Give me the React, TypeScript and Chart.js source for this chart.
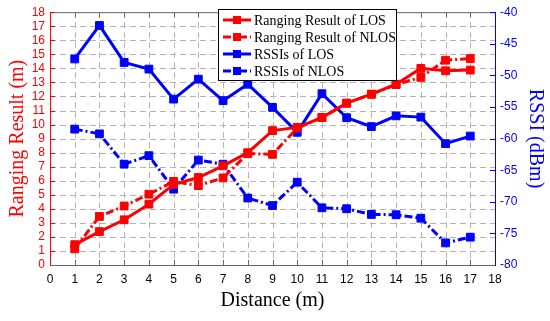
import React, { useEffect, useRef } from 'react';
import { Chart, registerables } from 'chart.js';
Chart.register(...registerables);

const distances = [1, 2, 3, 4, 5, 6, 7, 8, 9, 10, 11, 12, 13, 14, 15, 16, 17];
const rangingLOS = [1.45, 2.38, 3.22, 4.33, 5.75, 6.23, 7.06, 8.0, 9.57, 9.8, 10.5, 11.52, 12.16, 12.87, 14.0, 13.83, 13.88];
const rangingNLOS = [1.15, 3.46, 4.2, 5.04, 5.95, 5.65, 6.2, 7.93, 7.88, 9.75, 10.5, 11.52, 12.16, 12.85, 13.36, 14.58, 14.7];
const rssiLOS = [-47.4, -42.1, -47.95, -49.0, -53.75, -50.6, -54.0, -51.4, -55.06, -59.0, -52.9, -56.7, -58.1, -56.4, -56.6, -60.8, -59.6];
const rssiNLOS = [-58.5, -59.25, -64.05, -62.7, -68.0, -63.4, -64.05, -69.4, -70.6, -66.9, -70.95, -71.1, -72.0, -72.05, -72.6, -76.5, -75.6];

const legendLabels = ['Ranging Result of LOS', 'Ranging Result of NLOS', 'RSSIs of LOS', 'RSSIs of NLOS'];
const xTitle = 'Distance (m)';
const yLeftTitle = 'Ranging Result (m)';
const yRightTitle = 'RSSI (dBm)';

const RED = '#ff0000';
const BLUE = '#0000ff';
const GRID = '#b4b4b4';
const DASHDOT = [8, 3, 2, 3];
const SERIF = '"Liberation Serif", "Times New Roman", serif';
const SANS = '"Liberation Sans", Arial, sans-serif';

const toPts = (ys: number[]) => ys.map((y, i) => ({ x: distances[i], y }));

function drawFrame(chart: any) {
  const ctx = chart.ctx;
  const a = chart.chartArea;
  const x = chart.scales['x'];
  const yl = chart.scales['y'];
  const yr = chart.scales['y1'];
  if (!a || !x || !yl || !yr) return;
  const L = 5;
  ctx.save();
  ctx.fillStyle = '#fff';
  ctx.fillRect(0, 0, chart.width, chart.height);
  ctx.lineWidth = 1;
  ctx.strokeStyle = GRID;
  ctx.setLineDash([6, 4]);
  for (let v = 1; v < 18; v++) {
    const px = Math.round(x.getPixelForValue(v)) + 0.5;
    ctx.beginPath();
    ctx.moveTo(px, a.top);
    ctx.lineTo(px, a.bottom);
    ctx.stroke();
    const py = Math.round(yl.getPixelForValue(v)) + 0.5;
    ctx.beginPath();
    ctx.moveTo(a.left, py);
    ctx.lineTo(a.right, py);
    ctx.stroke();
  }
  ctx.setLineDash([]);
  ctx.strokeStyle = '#666';
  ctx.beginPath();
  ctx.moveTo(a.left, a.top + 0.5);
  ctx.lineTo(a.right, a.top + 0.5);
  ctx.stroke();
  for (let v = 0; v <= 18; v++) {
    const px = Math.round(x.getPixelForValue(v)) + 0.5;
    ctx.beginPath();
    ctx.moveTo(px, a.bottom);
    ctx.lineTo(px, a.bottom - L);
    ctx.moveTo(px, a.top);
    ctx.lineTo(px, a.top + L);
    ctx.stroke();
  }
  ctx.strokeStyle = RED;
  for (let v = 0; v <= 18; v++) {
    const py = Math.round(yl.getPixelForValue(v)) + 0.5;
    ctx.beginPath();
    ctx.moveTo(a.left, py);
    ctx.lineTo(a.left + L, py);
    ctx.stroke();
  }
  ctx.strokeStyle = BLUE;
  for (let v = -80; v <= -40; v += 5) {
    const py = Math.round(yr.getPixelForValue(v)) + 0.5;
    ctx.beginPath();
    ctx.moveTo(a.right, py);
    ctx.lineTo(a.right - L, py);
    ctx.stroke();
  }
  ctx.restore();
}

function drawLegend(chart: any) {
  const ctx = chart.ctx;
  const bx = 218, by = 9, bw = 178, bh = 71;
  ctx.save();
  ctx.fillStyle = '#fff';
  ctx.fillRect(bx, by, bw, bh);
  ctx.strokeStyle = '#000';
  ctx.lineWidth = 1;
  ctx.strokeRect(bx + 0.5, by + 0.5, bw, bh);
  const rows = [20, 37, 54, 71];
  const colors = [RED, RED, BLUE, BLUE];
  const dashes = [[], DASHDOT, [], DASHDOT];
  ctx.font = '14px ' + SERIF;
  ctx.textBaseline = 'middle';
  rows.forEach((ry, i) => {
    ctx.strokeStyle = colors[i];
    ctx.fillStyle = colors[i];
    ctx.lineWidth = 3;
    ctx.setLineDash(dashes[i]);
    ctx.beginPath();
    ctx.moveTo(223, ry);
    ctx.lineTo(251, ry);
    ctx.stroke();
    ctx.setLineDash([]);
    ctx.fillRect(237 - 4, ry - 4, 8, 8);
    ctx.fillStyle = '#000';
    ctx.fillText(legendLabels[i], 254, ry + 1);
  });
  ctx.restore();
}

const decorPlugin = {
  id: 'decor',
  beforeDraw(chart: any) {
    drawFrame(chart);
  },
  afterDraw(chart: any) {
    drawLegend(chart);
  },
};

export default function App() {
  const ref = useRef<HTMLCanvasElement>(null);
  useEffect(() => {
    document.body.style.margin = '0';
    const ds = (label: string, data: number[], color: string, dash: number[], axis: string) => ({
      label,
      data: toPts(data),
      yAxisID: axis,
      borderColor: color,
      backgroundColor: color,
      borderWidth: 3,
      borderDash: dash,
      pointStyle: 'rect',
      pointRadius: 5.5,
      pointBorderWidth: 1,
      pointBackgroundColor: color,
      pointBorderColor: color,
      tension: 0,
    });
    const chart = new Chart(ref.current!, {
      type: 'line',
      data: {
        datasets: [
          ds(legendLabels[0], rangingLOS, RED, [], 'y'),
          ds(legendLabels[1], rangingNLOS, RED, DASHDOT, 'y'),
          ds(legendLabels[2], rssiLOS, BLUE, [], 'y1'),
          ds(legendLabels[3], rssiNLOS, BLUE, DASHDOT, 'y1'),
        ] as any,
      },
      options: {
        animation: false,
        responsive: false,
        maintainAspectRatio: false,
        layout: { padding: { top: 10, left: 0, right: 0, bottom: 0 } },
        plugins: { legend: { display: false }, tooltip: { enabled: false } },
        scales: {
          x: {
            type: 'linear',
            min: 0,
            max: 18,
            ticks: { stepSize: 1, autoSkip: false, color: '#000', font: { family: SANS, size: 12 }, padding: 7, maxRotation: 0 },
            grid: { display: false, drawTicks: false },
            border: { display: true, color: '#666' },
            title: { display: true, text: xTitle, color: '#000', font: { family: SERIF, size: 20 }, padding: { top: 0, bottom: 8 } },
            afterFit: (s: any) => { s.height = 56; },
          },
          y: {
            type: 'linear',
            position: 'left',
            min: 0,
            max: 18,
            ticks: { stepSize: 1, autoSkip: false, color: RED, font: { family: SANS, size: 12 }, padding: 5 },
            grid: { display: false, drawTicks: false },
            border: { display: true, color: RED },
            title: { display: true, text: yLeftTitle, color: RED, font: { family: SERIF, size: 20 }, padding: { top: 6, bottom: 0 } },
            afterFit: (s: any) => { s.width = 50; },
          },
          y1: {
            type: 'linear',
            position: 'right',
            min: -80,
            max: -40,
            ticks: { stepSize: 5, autoSkip: false, color: BLUE, font: { family: SANS, size: 12 }, padding: 5 },
            grid: { display: false, drawTicks: false },
            border: { display: true, color: BLUE },
            title: { display: true, text: yRightTitle, color: BLUE, font: { family: SERIF, size: 20 }, padding: { top: 3, bottom: 0 } },
            afterFit: (s: any) => { s.width = 55; },
          },
        },
      } as any,
      plugins: [decorPlugin],
    });
    return () => chart.destroy();
  }, []);
  return (
    <div style={{ width: 550, height: 321, background: '#fff' }}>
      <canvas ref={ref} width={550} height={321} style={{ display: 'block' }} />
    </div>
  );
}
